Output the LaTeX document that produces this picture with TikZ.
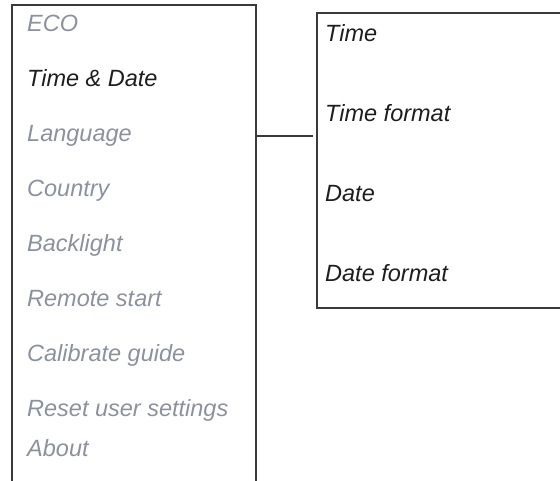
\documentclass[tikz,border=0pt]{standalone}
\usepackage{fontspec}
\setmainfont{Liberation Sans}
\definecolor{menugrey}{HTML}{8C919E}
\definecolor{menublack}{HTML}{1E1E1E}
\definecolor{framegrey}{HTML}{3A3A3A}
\begin{document}
\begin{tikzpicture}[x=1pt,y=-1pt,
  frame/.style={draw=framegrey,line width=1.3pt},
  item/.style={anchor=base west,inner sep=0pt,font=\fontsize{23.5}{26}\selectfont\itshape},
  dim/.style={item,text=menugrey},
  act/.style={item,text=menublack},
  link/.style={draw=framegrey,line width=1.1pt}]
\useasboundingbox (0,0) rectangle (560,481);
% left menu box (open at bottom)
\draw[frame] (12,482) -- (12,5) -- (256,5) -- (256,482);
% right submenu box (open at right)
\draw[frame] (561,13) -- (317,13) -- (317,308) -- (561,308);
% left items
\node[dim] (eco) at (27,32) {ECO};
\node[act] (td) at (27,87) {Time \& Date};
\node[dim] (lang) at (27,142) {Language};
\node[dim] (ctry) at (27,197) {Country};
\node[dim] (back) at (27,252) {Backlight};
\node[dim] (rem) at (27,306) {Remote start};
\node[dim] (cal) at (27,361) {Calibrate guide};
\node[dim] (rst) at (27,416) {Reset user settings};
\node[dim] (abt) at (27,456) {About};
% right items
\node[act] (time) at (325,42) {Time};
\node[act] (tfmt) at (325,122) {Time format};
\node[act] (date) at (325,202) {Date};
\node[act] (dfmt) at (325,282) {Date format};
% connector
\coordinate (cl) at (256,136);
\coordinate (cr) at (313,136);
\draw[link] (cl) -- (cr);
\end{tikzpicture}
\end{document}
